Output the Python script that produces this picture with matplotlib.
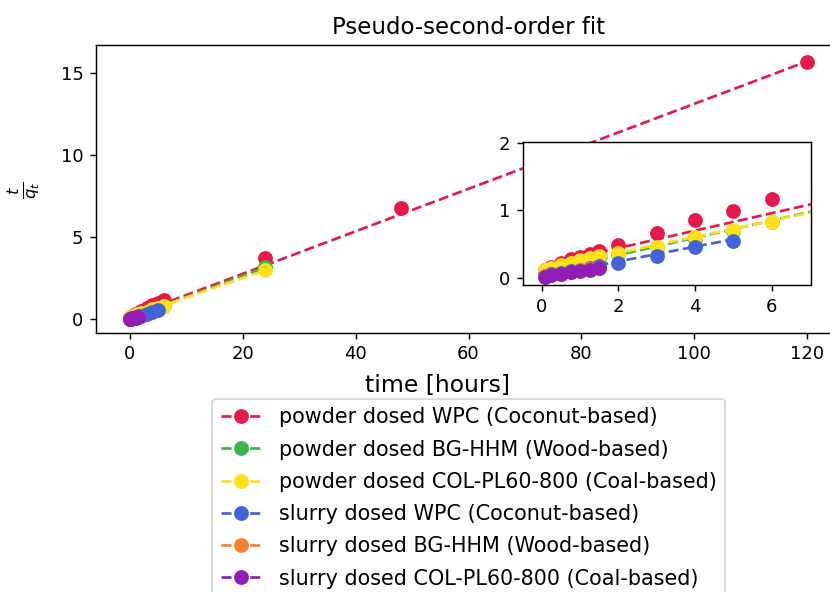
import numpy as np
import matplotlib
matplotlib.use("Agg")
import matplotlib.pyplot as plt
from matplotlib.lines import Line2D

labels = [
    "powder dosed WPC (Coconut-based)",
    "powder dosed BG-HHM (Wood-based)",
    "powder dosed COL-PL60-800 (Coal-based)",
    "slurry dosed WPC (Coconut-based)",
    "slurry dosed BG-HHM (Wood-based)",
    "slurry dosed COL-PL60-800 (Coal-based)",
]
colors = ["#e6194b", "#3cb44b", "#ffe119", "#4363d8", "#f58231", "#911eb4"]

# time [hours] and t/q_t values per series
t_powder_wpc = [0.083, 0.25, 0.5, 0.75, 1.0, 1.25, 1.5, 2, 3, 4, 5, 6, 24, 48, 120]
y_powder_wpc = [0.12, 0.16, 0.22, 0.27, 0.31, 0.35, 0.40, 0.48, 0.66, 0.86, 0.99, 1.17, 3.74, 6.79, 15.7]

t_powder_bg = [0.083, 0.25, 0.5, 0.75, 1.0, 1.25, 1.5, 2, 3, 4, 5, 6, 24]
y_powder_bg = [0.09, 0.11, 0.15, 0.19, 0.23, 0.26, 0.29, 0.35, 0.46, 0.58, 0.70, 0.82, 3.2]

t_powder_col = [0.083, 0.25, 0.5, 0.75, 1.0, 1.25, 1.5, 2, 3, 4, 5, 6, 24]
y_powder_col = [0.12, 0.14, 0.18, 0.22, 0.26, 0.29, 0.32, 0.37, 0.46, 0.60, 0.71, 0.83, 3.0]

t_slurry_wpc = [0.083, 0.25, 0.5, 0.75, 1.0, 1.25, 1.5, 2, 3, 4, 5]
y_slurry_wpc = [0.02, 0.05, 0.07, 0.10, 0.12, 0.15, 0.17, 0.21, 0.32, 0.45, 0.55]

t_slurry_bg = [0.083, 0.25, 0.5, 0.75, 1.0, 1.25, 1.5]
y_slurry_bg = [0.02, 0.04, 0.06, 0.09, 0.11, 0.13, 0.15]

t_slurry_col = [0.083, 0.25, 0.5, 0.75, 1.0, 1.25, 1.5]
y_slurry_col = [0.015, 0.035, 0.06, 0.08, 0.10, 0.12, 0.14]

# fitted line parameters (t/q_t = slope * t + intercept)
fit_slope = [0.1295, 0.128, 0.119, 0.11, 0.095, 0.09]
fit_intercept = [0.18, 0.08, 0.13, 0.02, 0.01, 0.01]

ts = [t_powder_wpc, t_powder_bg, t_powder_col, t_slurry_wpc, t_slurry_bg, t_slurry_col]
ys = [y_powder_wpc, y_powder_bg, y_powder_col, y_slurry_wpc, y_slurry_bg, y_slurry_col]

fig = plt.figure(figsize=(830 / 130, 592 / 130), dpi=130)
ax = fig.add_axes([0.1157, 0.438, 0.8976, 0.4855])
axin = fig.add_axes([0.6298, 0.5186, 0.347, 0.242])

for a in (ax, axin):
    for t, y, c, m, b in zip(ts, ys, colors, fit_slope, fit_intercept):
        a.plot(t, y, "o", color=c, markersize=7.2, linestyle="none")
        tl = np.array([0.0, max(t)])
        a.plot(tl, m * tl + b, "--", color=c, linewidth=1.5)

ax.set_xlim(-6, 126)
ax.set_ylim(-0.82, 16.7)
ax.set_xticks([0, 20, 40, 60, 80, 100, 120])
ax.set_yticks([0, 5, 10, 15])
ax.set_title("Pseudo-second-order fit", fontsize=12.7)
ax.set_xlabel("time [hours]", fontsize=13)
ax.xaxis.set_label_coords(0.459, -0.145)
fig.text(24 / 830, 1 - 190 / 592, r"$\frac{t}{q_t}$", fontsize=13,
         rotation=90, ha="center", va="center")

axin.set_xlim(-0.5, 7.02)
axin.set_ylim(-0.11, 2.02)
axin.set_xticks([0, 2, 4, 6])
axin.set_yticks([0, 1, 2])

handles = [Line2D([0], [0], color=c, marker="o", linestyle="--", markersize=7.2)
           for c in colors]
ax.legend(handles, labels, loc="upper center", bbox_to_anchor=(0.5, -0.195),
          fontsize=11.5, labelspacing=0.59)

fig.savefig("out.png", dpi=130)
